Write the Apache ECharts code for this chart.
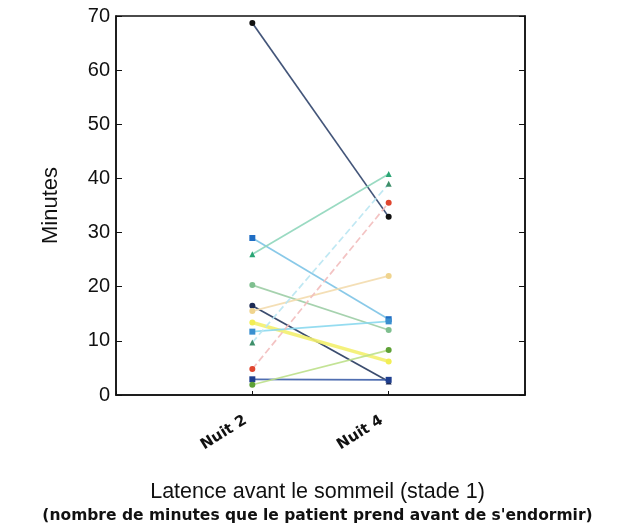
<!DOCTYPE html>
<html>
<head>
<meta charset="utf-8">
<script src="https://cdn.jsdelivr.net/npm/echarts@6/dist/echarts.min.js"></script>
<style>
  html, body { margin: 0; padding: 0; background: #fff; }
  #chart { width: 635px; height: 532px; }
</style>
</head>
<body>
<div id="chart"></div>
<script>
// Sleep-onset latency (stage 1), per patient, night 2 vs night 4
const nights = ['Nuit 2', 'Nuit 4'];
const nightPos = [1, 2];
const yTicks = [0, 10, 20, 30, 40, 50, 60, 70];

const nuit2 = [68.7, 29, 26, 20.3, 16.5, 15.5, 13.4, 11.7, 9.7, 4.8, 2.9, 1.9];
const nuit4 = [32.9, 14, 40.8, 12, 2.5, 22, 6.2, 13.6, 39, 35.5, 2.8, 8.3];

const lineColors = ['#2f436a', '#7cc3e6', '#8fd6bb', '#9ccda5', '#26385e', '#f3dcae',
                    '#f3f06e', '#8ad8ee', '#b9e6f2', '#f2bcbc', '#3d5ea8', '#bde08a'];
const markColors = ['#111111', '#1f6dc4', '#2aa574', '#7fbf8f', '#1d2b55', '#f0d48e',
                    '#f2ee55', '#3a8fd0', '#3e8f6a', '#e0452e', '#1f3f8f', '#5ea136'];
const symbols = ['circle', 'rect', 'triangle', 'circle', 'circle', 'circle',
                 'circle', 'rect', 'triangle', 'circle', 'rect', 'circle'];
const endSymbols = ['circle', 'rect', 'triangle', 'circle', 'triangle', 'circle',
                    'circle', 'rect', 'triangle', 'circle', 'rect', 'circle'];
const dashed = [false, false, false, false, false, false, false, false, true, true, false, false];

const series = nuit2.map((v, i) => ({
  type: 'line',
  data: [
    { value: [nightPos[0], v], symbol: symbols[i] },
    { value: [nightPos[1], nuit4[i]], symbol: endSymbols[i] }
  ],
  symbolSize: 6,
  lineStyle: { color: lineColors[i], width: i === 6 ? 3.5 : 1.7, type: dashed[i] ? 'dashed' : 'solid', opacity: 0.9 },
  itemStyle: { color: markColors[i] },
  z: 3,
  animation: false
}));

const chart = echarts.init(document.getElementById('chart'), null, { renderer: 'canvas' });
chart.setOption({
  backgroundColor: '#ffffff',
  animation: false,
  grid: { left: 116, top: 16, width: 409, height: 379, show: true, borderColor: '#111', borderWidth: 1.5 },
  xAxis: {
    type: 'value', min: 0, max: 3, interval: 1,
    axisLine: { show: true, lineStyle: { color: '#111', width: 1.5 } },
    axisTick: { show: true, inside: true, length: 4, lineStyle: { color: '#111' } },
    splitLine: { show: false },
    axisLabel: {
      rotate: 32, margin: 20, padding: [0, 8, 0, 0],
      fontFamily: 'DejaVu Sans', fontWeight: 'bold', fontSize: 15, color: '#111',
      formatter: v => { const k = nightPos.indexOf(v); return k >= 0 ? nights[k] : ''; }
    }
  },
  yAxis: [{
    type: 'value', min: yTicks[0], max: yTicks[yTicks.length - 1], interval: 10,
    name: 'Minutes', nameLocation: 'middle', nameGap: 54,
    nameTextStyle: { fontFamily: 'Liberation Sans', fontSize: 22, color: '#111' },
    axisLine: { show: true, lineStyle: { color: '#111', width: 1.5 } },
    axisTick: { show: true, inside: true, length: 6, lineStyle: { color: '#111' } },
    splitLine: { show: false },
    axisLabel: { fontFamily: 'Liberation Sans', fontSize: 20, color: '#111', margin: 6 }
  }, {
    type: 'value', min: 0, max: 70, interval: 10, position: 'right',
    axisLine: { show: true, lineStyle: { color: '#111', width: 1.5 } },
    axisTick: { show: true, inside: true, length: 6, lineStyle: { color: '#111' } },
    splitLine: { show: false },
    axisLabel: { show: false }
  }],
  series: series,
  graphic: [
    { type: 'text', left: 'center', top: 481,
      style: { text: 'Latence avant le sommeil (stade 1)', font: '21.5px "Liberation Sans"', fill: '#111' } },
    { type: 'text', left: 'center', top: 508,
      style: { text: "(nombre de minutes que le patient prend avant de s'endormir)", font: 'bold 15.5px "DejaVu Sans"', fill: '#111' } }
  ]
});
</script>
</body>
</html>
